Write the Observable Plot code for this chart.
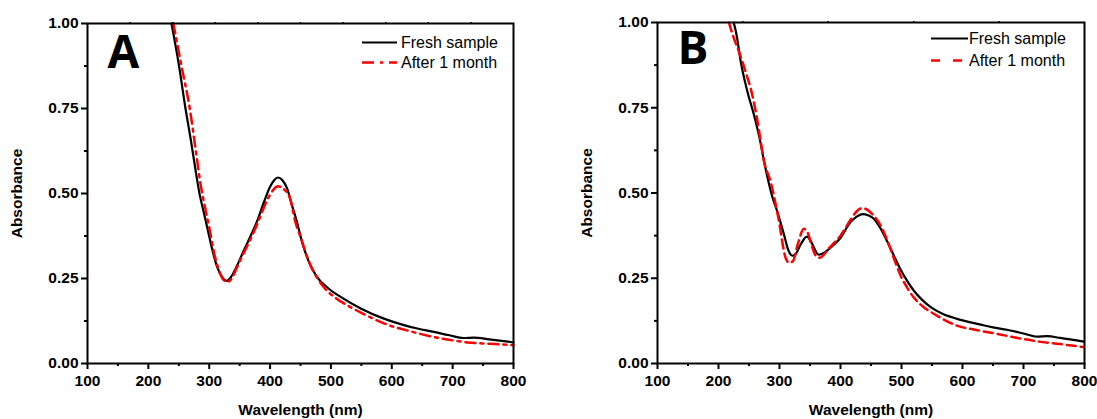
<!DOCTYPE html>
<html>
<head>
<meta charset="utf-8">
<script src="https://cdn.jsdelivr.net/npm/d3@7"></script>
<script src="https://cdn.jsdelivr.net/npm/@observablehq/plot@0.6"></script>
<style>
  body { margin: 0; background: #fff; }
  #wrap { position: relative; width: 1097px; height: 419px; font-family: "Liberation Sans", Arial, sans-serif; }
  .panel { position: absolute; top: 0; }
  #legend { position: absolute; left: 0; top: 0; pointer-events: none; }
</style>
</head>
<body>
<div id="wrap"></div>
<script>
// ---- Data (wavelength nm, absorbance) ----
const panelA_fresh = [
  [238,1.00],[250,0.88],[261,0.75],[270,0.655],[277,0.575],[284,0.50],[291,0.445],[298,0.39],
  [305,0.335],[313,0.284],[322,0.252],[329,0.243],[336,0.255],[345,0.285],[357,0.333],[368,0.375],
  [379,0.42],[390,0.475],[400,0.52],[407,0.54],[413,0.547],[420,0.54],[428,0.515],[436,0.465],
  [442,0.43],[455,0.343],[466,0.29],[477,0.255],[495,0.222],[516,0.196],[549,0.162],[587,0.132],
  [620,0.113],[642,0.103],[669,0.093],[695,0.083],[718,0.075],[735,0.076],[760,0.071],[800,0.062]
];
const panelA_aged = [
  [241,1.00],[255,0.87],[268,0.75],[278,0.625],[286,0.525],[293,0.46],[300,0.40],[310,0.31],
  [318,0.265],[324,0.245],[330,0.24],[337,0.25],[345,0.28],[351,0.304],[365,0.355],[380,0.415],
  [395,0.48],[405,0.51],[413,0.521],[421,0.515],[433,0.485],[441,0.42],[450,0.372],[465,0.295],
  [488,0.225],[510,0.19],[532,0.166],[560,0.14],[587,0.118],[630,0.095],[669,0.078],[700,0.068],
  [724,0.062],[760,0.058],[800,0.054]
];
const panelB_fresh = [
  [225,1.00],[230,0.96],[236,0.89],[247,0.80],[258,0.73],[268,0.655],[275,0.59],[281,0.54],
  [288,0.49],[296,0.448],[307,0.38],[315,0.33],[321,0.316],[327,0.322],[335,0.35],[345,0.372],
  [351,0.36],[357,0.338],[364,0.319],[370,0.322],[378,0.331],[390,0.35],[400,0.368],[416,0.414],
  [426,0.43],[436,0.438],[446,0.434],[455,0.424],[465,0.398],[476,0.36],[487,0.318],[498,0.277],
  [509,0.243],[520,0.214],[533,0.188],[548,0.165],[568,0.145],[591,0.131],[630,0.114],[650,0.106],
  [673,0.099],[700,0.088],[722,0.079],[739,0.08],[760,0.075],[799,0.064]
];
const panelB_aged = [
  [217,1.00],[225,0.955],[233,0.917],[244,0.858],[255,0.79],[263,0.72],[269,0.653],[275,0.59],
  [285,0.536],[298,0.428],[310,0.31],[316,0.295],[322,0.30],[330,0.35],[340,0.395],[346,0.385],
  [352,0.35],[360,0.315],[366,0.31],[372,0.318],[380,0.336],[400,0.375],[416,0.42],[426,0.445],
  [436,0.456],[446,0.448],[456,0.43],[466,0.404],[477,0.36],[487,0.311],[498,0.26],[509,0.223],
  [520,0.194],[535,0.167],[553,0.146],[570,0.128],[591,0.111],[620,0.099],[656,0.087],[690,0.075],
  [722,0.065],[760,0.057],[799,0.048]
];
const seriesNames = ["Fresh sample", "After 1 month"];
const panelLetters = ["A", "B"];
const xTicks = [100,200,300,400,500,600,700,800];
const xMinorTicks = [150,250,350,450,550,650,750];
const yTicks = [0,0.25,0.5,0.75,1];
const yMinorTicks = [0.125,0.375,0.625,0.875];
const topTicksA = [170,240,310,380,450,520,590,660,730];
const topTicksB = [240,380,520,660];

const FONT = "Liberation Sans, Arial, sans-serif";
const toObj = arr => arr.map(([x, y]) => ({x, y}));

function panel({fresh, aged, width, ml, mr, mt, letter, dash, topTicks, letterDy}) {
  return Plot.plot({
    width, height: 419,
    marginLeft: ml, marginRight: mr, marginTop: mt, marginBottom: 56,
    style: {fontFamily: FONT, background: "white", color: "black", overflow: "visible"},
    x: {domain: [100, 800]},
    y: {domain: [0, 1]},
    marks: [
      Plot.line(toObj(fresh), {x: "x", y: "y", stroke: "black", strokeWidth: 2.2, curve: "monotone-x"}),
      Plot.line(toObj(aged), {x: "x", y: "y", stroke: "#ff0000", strokeWidth: 2.5, strokeDasharray: dash, curve: "monotone-x"}),
      Plot.axisY({ticks: yTicks, tickSize: 6, tickPadding: 3, tickFormat: d3.format(".2f"), fontSize: 15.5, fontWeight: "bold",
        strokeWidth: 2, label: "Absorbance", labelAnchor: "center", labelOffset: 77, labelArrow: "none"}),
      Plot.axisY({ticks: yMinorTicks, tickSize: 3, tickFormat: () => "", strokeWidth: 2, label: null}),
      Plot.axisX({ticks: xTicks, tickSize: 6, tickPadding: 5, tickFormat: d3.format("d"), fontSize: 15.5, fontWeight: "bold",
        strokeWidth: 2, label: "Wavelength (nm)", labelAnchor: "center", labelOffset: 51, labelArrow: "none"}),
      Plot.axisX({ticks: xMinorTicks, tickSize: 3, tickFormat: () => "", strokeWidth: 2, label: null}),
      Plot.axisX({anchor: "top", ticks: topTicks, tickSize: 2, tickFormat: () => "", strokeWidth: 1.5, label: null}),
      Plot.frame({stroke: "black", strokeWidth: 2}),
      Plot.text([letter], {text: d => d, frameAnchor: "top-left", dx: 20, dy: letterDy, fontSize: 46,
        fontWeight: "bold", fontFamily: "Open Sans, sans-serif", textAnchor: "start", lineAnchor: "top"})
    ]
  });
}

const wrap = document.getElementById("wrap");
const pA = panel({fresh: panelA_fresh, aged: panelA_aged, width: 548, ml: 87, mr: 35, mt: 23,
  letter: panelLetters[0], dash: "10,5,3,5", topTicks: topTicksA, letterDy: 12});
pA.classList.add("panel"); pA.style.left = "0px";
const pB = panel({fresh: panelB_fresh, aged: panelB_aged, width: 549, ml: 109, mr: 13, mt: 22,
  letter: panelLetters[1], dash: "9,5", topTicks: topTicksB, letterDy: 9});
pB.classList.add("panel"); pB.style.left = "548px";
wrap.appendChild(pA); wrap.appendChild(pB);

// ---- Legends (inside each panel, top-right) ----
const leg = d3.select(wrap).append("svg").attr("id", "legend").attr("width", 1097).attr("height", 419);
const legendSpecs = [
  {x0: 362, x1: 397, tx: 401, ys: [42.5, 62.5], dash: "12,6,3,6"},
  {x0: 931, x1: 968, tx: 969, ys: [38.5, 60.5], dash: "9,13"}
];
legendSpecs.forEach(s => {
  seriesNames.forEach((name, i) => {
    leg.append("line").attr("x1", s.x0).attr("x2", s.x1).attr("y1", s.ys[i]).attr("y2", s.ys[i])
      .attr("stroke", i === 0 ? "black" : "#ff0000").attr("stroke-width", i === 0 ? 2.2 : 2.5)
      .attr("stroke-dasharray", i === 0 ? null : s.dash);
    leg.append("text").attr("x", s.tx).attr("y", s.ys[i]).attr("dy", "0.35em")
      .attr("font-family", FONT).attr("font-size", 16).attr("fill", "black").text(name);
  });
});
</script>
</body>
</html>
